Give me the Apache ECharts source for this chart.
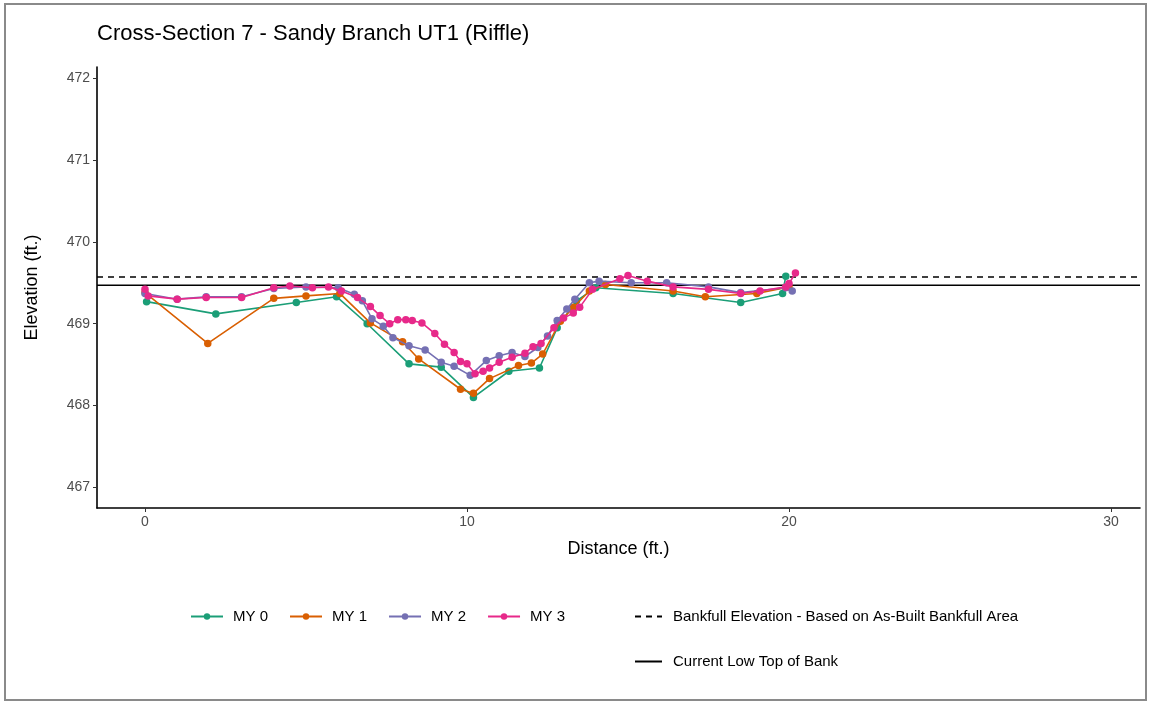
<!DOCTYPE html>
<html>
<head>
<meta charset="utf-8">
<script src="https://cdn.jsdelivr.net/npm/echarts@6/dist/echarts.min.js"></script>
<style>
html,body{margin:0;padding:0;background:#fff;}
#chart{width:1151px;height:704px;}
</style>
</head>
<body>
<div id="chart"></div>
<script>
const titleText = 'Cross-Section 7 - Sandy Branch UT1 (Riffle)';
const seriesNames = ['MY 0', 'MY 1', 'MY 2', 'MY 3'];
const colors = ['#1B9E77', '#D95F02', '#7570B3', '#E7298A'];

const my0 = [[0.05,469.27],[2.2,469.12],[4.7,469.26],[5.95,469.33],[6.9,469.0],[8.2,468.51],[9.2,468.47],[10.2,468.1],[11.3,468.42],[12.25,468.46],[12.8,468.95],[13.4,469.28],[14.0,469.44],[16.4,469.37],[18.5,469.26],[19.8,469.37],[19.9,469.58]];
const my1 = [[0.0,469.38],[1.95,468.76],[4.0,469.31],[5.0,469.34],[6.05,469.37],[7.0,469.01],[8.0,468.78],[8.5,468.57],[9.8,468.2],[10.2,468.15],[10.7,468.33],[11.6,468.49],[12.0,468.52],[12.35,468.63],[12.9,469.03],[13.3,469.2],[13.8,469.4],[14.3,469.48],[16.4,469.4],[17.4,469.33],[19.0,469.37],[20.0,469.45]];
const my2 = [[0.0,469.37],[1.0,469.3],[1.9,469.33],[3.0,469.33],[4.0,469.43],[5.0,469.45],[6.0,469.44],[6.5,469.36],[6.75,469.28],[7.05,469.06],[7.4,468.97],[7.7,468.83],[8.2,468.73],[8.7,468.68],[9.2,468.53],[9.6,468.48],[10.1,468.37],[10.6,468.55],[11.0,468.61],[11.4,468.65],[11.8,468.6],[12.2,468.71],[12.5,468.85],[12.8,469.04],[13.1,469.18],[13.35,469.3],[13.8,469.5],[14.1,469.52],[15.1,469.5],[16.2,469.5],[17.5,469.45],[18.5,469.38],[19.9,469.44],[20.1,469.4]];
const my3 = [[0.0,469.42],[0.1,469.34],[1.0,469.3],[1.9,469.32],[3.0,469.32],[4.0,469.44],[4.5,469.46],[5.2,469.44],[5.7,469.45],[6.1,469.4],[6.6,469.32],[7.0,469.21],[7.3,469.1],[7.6,469.0],[7.85,469.05],[8.1,469.05],[8.3,469.04],[8.6,469.01],[9.0,468.88],[9.3,468.75],[9.6,468.65],[9.8,468.54],[10.0,468.51],[10.25,468.39],[10.5,468.42],[10.7,468.46],[11.0,468.53],[11.4,468.59],[11.8,468.64],[12.05,468.72],[12.3,468.76],[12.7,468.95],[13.0,469.07],[13.3,469.13],[13.5,469.2],[13.9,469.42],[14.75,469.55],[15.0,469.59],[15.6,469.52],[16.4,469.45],[17.5,469.42],[18.5,469.37],[19.1,469.4],[19.9,469.45],[20.0,469.49],[20.2,469.62]];
const seriesData = [my0, my1, my2, my3];

const bankfullName = 'Bankfull Elevation - Based on As-Built Bankfull Area';
const bankfullElev = 469.57;
const lowBankName = 'Current Low Top of Bank';
const lowBankElev = 469.47;

const xMin = -1.49, xMax = 30.9;
const yMin = 466.75, yMax = 472.135;
const xTicks = [0, 10, 20, 30];
const yTicks = [467, 468, 469, 470, 471, 472];

const font = '"Liberation Sans", Arial, sans-serif';
const chart = echarts.init(document.getElementById('chart'));

const series = seriesNames.map((n, i) => ({
  name: n,
  type: 'line',
  data: seriesData[i],
  symbol: 'circle',
  symbolSize: 7.5,
  showSymbol: true,
  lineStyle: { width: 1.6, color: colors[i] },
  itemStyle: { color: colors[i] },
  emphasis: { disabled: true },
  z: 3 + i
}));
series.push({
  name: bankfullName, type: 'line', data: [[xMin, bankfullElev], [xMax, bankfullElev]],
  symbol: 'none', lineStyle: { color: '#000', width: 1.6, type: [6, 5] }, itemStyle: { color: '#000' }, z: 2
});
series.push({
  name: lowBankName, type: 'line', data: [[xMin, lowBankElev], [xMax, lowBankElev]],
  symbol: 'none', lineStyle: { color: '#000', width: 1.6 }, itemStyle: { color: '#000' }, z: 2
});

chart.setOption({
  animation: false,
  backgroundColor: '#fff',
  textStyle: { fontFamily: font },
  title: {
    text: titleText, left: 92, top: 18,
    textStyle: { fontFamily: font, fontSize: 22, fontWeight: 'normal', color: '#000' }
  },
  graphic: [{
    type: 'rect', shape: { x: 5, y: 4, width: 1141, height: 696 },
    style: { fill: 'none', stroke: '#8a8a8a', lineWidth: 2 }, silent: true
  }],
  grid: { left: 97, right: 11, top: 67, bottom: 196, containLabel: false },
  xAxis: {
    type: 'value', min: xMin, max: xMax,
    name: 'Distance (ft.)', nameLocation: 'middle', nameGap: 32,
    nameTextStyle: { fontFamily: font, fontSize: 18, color: '#000' },
    axisLine: { show: true, onZero: false, lineStyle: { color: '#000', width: 1.6 } },
    axisTick: { show: true, length: 4, customValues: xTicks, lineStyle: { color: '#333' } },
    axisLabel: { customValues: xTicks, fontSize: 14, color: '#4d4d4d', margin: 7, fontFamily: font },
    splitLine: { show: false }
  },
  yAxis: {
    type: 'value', min: yMin, max: yMax,
    name: 'Elevation (ft.)', nameLocation: 'middle', nameGap: 56, nameRotate: 90,
    nameTextStyle: { fontFamily: font, fontSize: 18, color: '#000' },
    axisLine: { show: true, onZero: false, lineStyle: { color: '#000', width: 1.6 } },
    axisTick: { show: true, length: 4, customValues: yTicks, lineStyle: { color: '#333' } },
    axisLabel: { customValues: yTicks, fontSize: 14, color: '#4d4d4d', margin: 7, fontFamily: font },
    splitLine: { show: false }
  },
  legend: [{
    data: seriesNames, left: 185, top: 604, itemWidth: 32, itemHeight: 8, itemGap: 21,
    textStyle: { fontFamily: font, fontSize: 15, color: '#000', padding: [0, 0, 0, 5] },
    selectedMode: false
  }, {
    data: [
      { name: bankfullName, itemStyle: { opacity: 0 } },
      { name: lowBankName, itemStyle: { opacity: 0 } }
    ],
    orient: 'vertical', left: 629, top: 604,
    itemWidth: 27, itemHeight: 8, itemGap: 30,
    textStyle: { fontFamily: font, fontSize: 15, color: '#000', padding: [0, 0, 0, 6] },
    selectedMode: false
  }],
  series: series
});
</script>
</body>
</html>
